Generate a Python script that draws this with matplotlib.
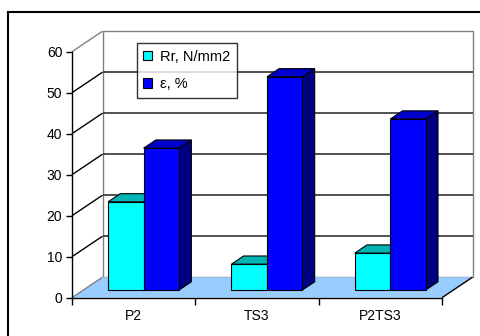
import matplotlib.pyplot as plt
from matplotlib.patches import Polygon, Patch, Rectangle
from matplotlib.transforms import IdentityTransform

categories = ['P2', 'TS3', 'P2TS3']
rr = [21.5, 6.3, 9.0]
eps = [34.6, 52.0, 41.7]
series_names = ['Rr, N/mm2', 'ε, %']
yticks = [0, 10, 20, 30, 40, 50, 60]

plt.rcParams['font.family'] = ['Liberation Sans', 'DejaVu Sans']

W, H = 481, 336
DX, DY = 30.5, 20.5          # pixel shift from front plane to back wall
D0, D1 = 0.375, 0.775        # bar depth range
BW = 0.288                   # bar width in category units
GC = 0.488                   # group centre inside a category

fig = plt.figure(figsize=(W / 100, H / 100), dpi=100)
ax = fig.add_axes([72 / W, (H - 297.7) / H, 370 / W, 246 / H])
ax.set_xlim(0, 3)
ax.set_ylim(0, 60)
ax.patch.set_visible(False)


def proj(x, v, d):
    px, py = ax.transData.transform((x, v))
    return (px + DX * d, py + DY * d)


def poly(pts, fc, ec='none', lw=0.0, z=1):
    ax.add_patch(Polygon([proj(*p) for p in pts], closed=True, facecolor=fc,
                         edgecolor=ec, linewidth=lw, transform=IdentityTransform(),
                         clip_on=False, zorder=z))


def line(p, q, color, lw=1.0, z=1.5):
    a, b = proj(*p), proj(*q)
    ax.plot([a[0], b[0]], [a[1], b[1]], color=color, lw=lw,
            transform=IdentityTransform(), clip_on=False, zorder=z,
            solid_capstyle='butt')


# walls and floor
poly([(0, 0, 1), (3, 0, 1), (3, 60, 1), (0, 60, 1)], 'white', '#808080', 1.0)
poly([(0, 0, 0), (3, 0, 0), (3, 0, 1), (0, 0, 1)], '#99CCFF')
for v in yticks[1:-1]:
    line((0, v, 1), (3, v, 1), '#333333', 1.2)
    line((0, v, 0), (0, v, 1), 'black', 1.0)
line((0, 60, 0), (0, 60, 1), '#808080', 1.0)
line((0, 0, 0), (0, 0, 1), '#808080', 1.0)
line((3, 0, 0), (3, 0, 1), 'black', 1.0)


def bar(x0, v, front, top, side):
    x1 = x0 + BW
    kw = dict(ec='black', lw=0.8, z=2)
    poly([(x1, 0, D0), (x1, 0, D1), (x1, v, D1), (x1, v, D0)], side, **kw)
    poly([(x0, v, D0), (x1, v, D0), (x1, v, D1), (x0, v, D1)], top, **kw)
    poly([(x0, 0, D0), (x1, 0, D0), (x1, v, D0), (x0, v, D0)], front, **kw)


for i in range(len(categories)):
    bar(i + GC - BW, rr[i], '#00FFFF', '#00B4B4', '#008080')
    bar(i + GC, eps[i], '#0000FF', '#0000CC', '#000080')

# axes, ticks and labels
for s in ['top', 'right']:
    ax.spines[s].set_visible(False)
for s in ['left', 'bottom']:
    ax.spines[s].set_color('black')
    ax.spines[s].set_linewidth(1.0)
ax.set_yticks(yticks)
ax.tick_params(axis='y', direction='out', length=4, width=1, labelsize=10, pad=3)
ax.set_xticks([0, 1, 2, 3])
ax.set_xticklabels([])
ax.set_xticks([0.5, 1.5, 2.5], minor=True)
ax.set_xticklabels(categories, minor=True)
ax.tick_params(axis='x', which='major', direction='out', length=5, width=1)
ax.tick_params(axis='x', which='minor', length=0, labelsize=10, pad=8)

handles = [Patch(facecolor='#00FFFF', edgecolor='black', linewidth=0.8),
           Patch(facecolor='#0000FF', edgecolor='black', linewidth=0.8)]
leg = fig.legend(handles, series_names, loc='upper left',
                 bbox_to_anchor=(136.7 / W, (H - 43.3) / H), fontsize=10.5,
                 frameon=True, fancybox=False, borderpad=0.45,
                 handlelength=0.62, handleheight=0.62, handletextpad=0.52,
                 labelspacing=0.9, borderaxespad=0)
leg.get_frame().set_edgecolor('black')
leg.get_frame().set_linewidth(1.0)

# outer chart border (left and top visible)
fig.patches.append(Rectangle((8 / W, -0.1), 1.0, (H - 12) / H + 0.1,
                             transform=fig.transFigure, fill=False,
                             edgecolor='black', linewidth=1.5))

fig.savefig('out.png', dpi=100)
